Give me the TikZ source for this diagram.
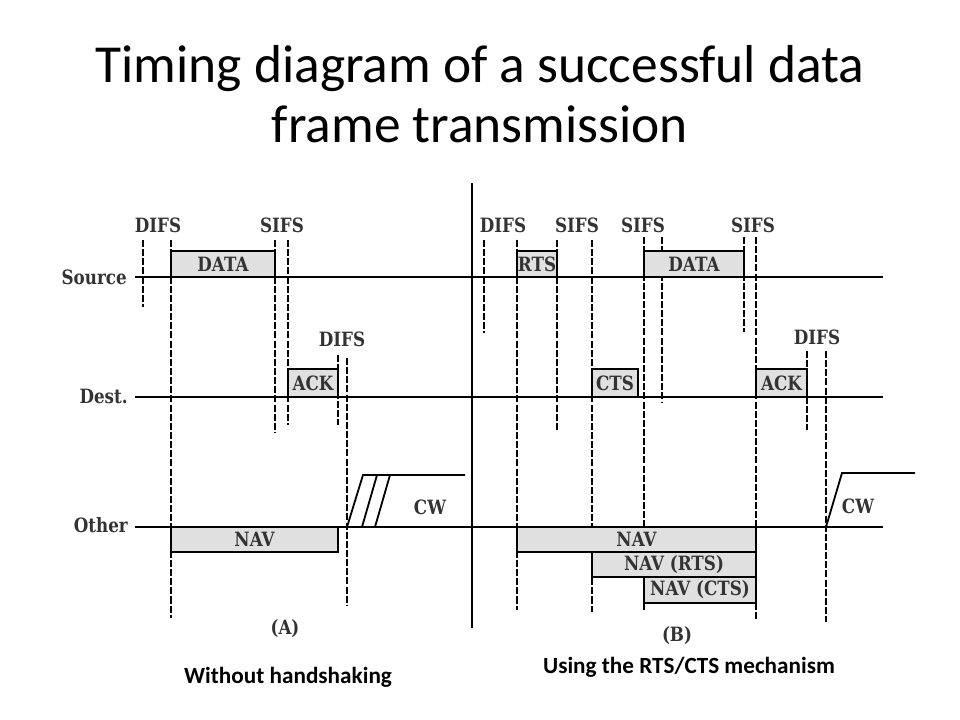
\documentclass[tikz,border=0pt]{standalone}
\usepackage{fontspec}
\setmainfont{Carlito}
\newfontfamily\diagfont[FakeStretch=0.85]{DejaVu Serif}
\usetikzlibrary{positioning}
\tikzset{
	axis/.style={line width=2pt},
	ifs/.style={line width=1.4pt, dash pattern=on 5pt off 1.5pt},
	framebox/.style={draw=black, line width=1.6pt, fill=black!12},
	lbl/.style={font=\diagfont\bfseries\fontsize{14}{16}\selectfont, text=black!80, inner sep=0pt},
	caption/.style={font=\bfseries\fontsize{16.5}{19}\selectfont, inner sep=0pt},
}
\begin{document}
\begin{tikzpicture}[x=0.025cm, y=-0.025cm]
	\useasboundingbox (0,0) rectangle (960,720);
	\node[align=center, font=\fontsize{38}{43}\selectfont] (title) at (480,94)
		{Timing diagram of a successful data\\frame transmission};
	% interframe spaces
	\foreach \x/\a/\b in {143/240/307, 171/240/618, 275/240/432, 288/240/425,
		338/355/425, 347/358/605, 484/240/333, 517/240/610, 557/240/430,
		592/240/612, 644/237/610, 662/237/403, 744/237/332, 756/237/620,
		807/351/430, 826/351/622}
		\draw[ifs] (\x,\a) -- (\x,\b);
	% frames
	\foreach \xa/\ya/\xb/\yb/\t/\n in {
		171/251/275/277/DATA/dataA, 288/369/338/397/ACK/ackA, 171/527/338/552/NAV/navA,
		517/251/557/277/RTS/rts, 592/369/638/397/CTS/cts, 644/251/744/277/DATA/dataB,
		756/369/807/397/ACK/ackB, 517/527/756/552/NAV/navB,
		592/552/756/577/NAV (RTS)/navrts, 644/577/756/603/NAV (CTS)/navcts}
	{
		\draw[framebox] (\xa,\ya) rectangle (\xb,\yb);
		\node[lbl] (\n) at ({(\xa+\xb)/2},{(\ya+\yb)/2}) {\t};
	}
	% time axes
	\draw[axis] (135,277) -- (883,277);
	\draw[axis] (135,397) -- (883,397);
	\draw[axis] (135,527) -- (883,527);
	\node[lbl, anchor=east] (source) at (127,277) {Source};
	\node[lbl, anchor=east] (dest) at (128,396) {Dest.};
	\node[lbl, anchor=east] (other) at (128,525) {Other};
	\draw[axis] (472,183) -- (472,628);
	\foreach \x/\y/\t/\n in {158/225/DIFS/difsA, 282/225/SIFS/sifsA, 342/339/DIFS/difsAA,
		503/225/DIFS/difsB, 577/225/SIFS/sifsB, 643/225/SIFS/sifsBB,
		753/225/SIFS/sifsBBB, 817/337/DIFS/difsBB}
		\node[lbl] (\n) at (\x,\y) {\t};
	% contention windows
	\draw[line width=1.3pt] (347,527) -- (363,475) -- (465,475);
	\draw[line width=1.3pt] (362,527) -- (377,475);
	\draw[line width=1.3pt] (375,527) -- (390,475);
	\node[lbl] (cwA) at (430,507) {CW};
	\draw[line width=1.3pt] (826,527) -- (842,473) -- (915,473);
	\node[lbl] (cwB) at (858,506) {CW};
	\node[lbl] (capA) at (285,629) {(A)};
	\node[lbl] (capB) at (677,636) {(B)};
	\node[caption] (noshake) at (288,677) {Without handshaking};
	\node[caption] (rtscts) at (689,667) {Using the RTS/CTS mechanism};
\end{tikzpicture}
\end{document}
